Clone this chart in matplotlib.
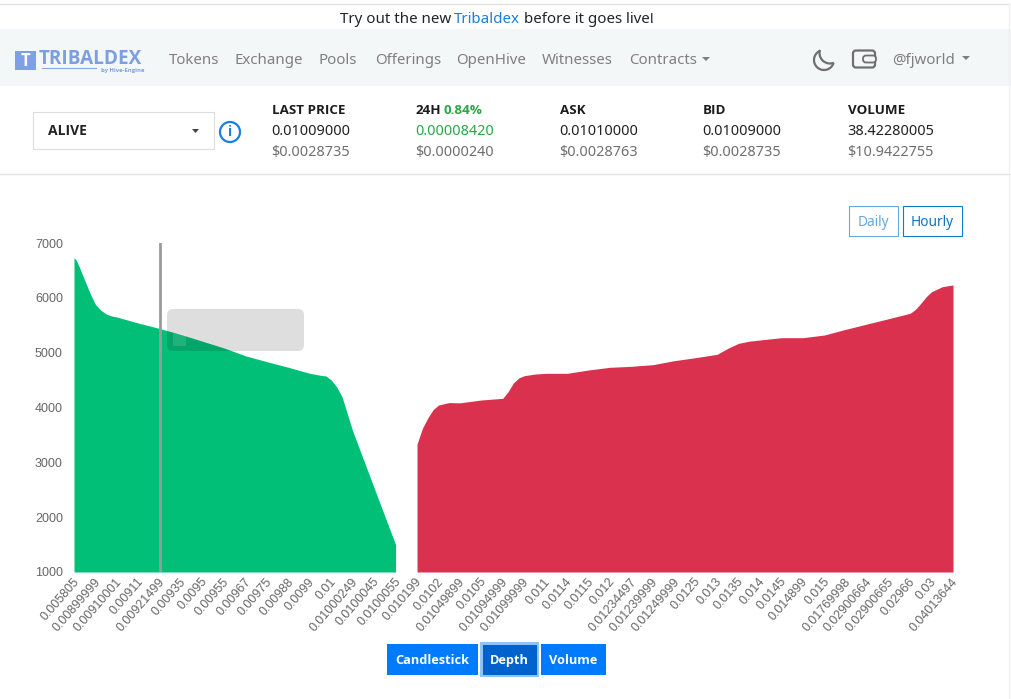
import matplotlib.pyplot as plt
from matplotlib.patches import Rectangle, FancyBboxPatch, Circle, Arc, Polygon
from matplotlib.transforms import ScaledTranslation

price_labels = ["0.005805", "0.00899999", "0.00910001", "0.00911", "0.00921499", "0.00935",
                "0.0095", "0.00955", "0.00967", "0.00975", "0.00988", "0.0099", "0.01",
                "0.01000249", "0.0100045", "0.0100055", "0.010199", "0.0102", "0.01049899",
                "0.0105", "0.01094999", "0.01099999", "0.011", "0.0114", "0.0115", "0.012",
                "0.01234497", "0.01239999", "0.01249999", "0.0125", "0.013", "0.0135", "0.014",
                "0.0145", "0.014899", "0.015", "0.01769998", "0.02900664", "0.02900665",
                "0.02966", "0.03", "0.04013644"]

bid_steps = [0, 0.1, 0.25, 0.5, 0.75, 1, 1.25, 1.5, 1.75, 2, 3, 4, 5, 6, 7, 8, 9, 10, 11,
             11.5, 11.75, 12, 12.25, 12.5, 13, 14, 15]
bid_depth = [6730, 6690, 6560, 6320, 6080, 5880, 5775, 5705, 5670, 5650, 5540, 5440, 5330,
             5207, 5085, 4943, 4835, 4733, 4623, 4587, 4575, 4500, 4378, 4197, 3571, 2532, 1500]

ask_steps = [16, 16.25, 16.5, 16.75, 17, 17.5, 18, 19, 20, 20.25, 20.5, 20.75, 21, 21.5, 22,
             23, 24, 25, 26, 27, 28, 29, 30, 30.5, 31, 31.5, 32, 33, 34, 35, 36, 37, 38, 39,
             39.25, 39.5, 39.75, 40, 40.5, 41]
ask_depth = [3330, 3620, 3808, 3960, 4045, 4090, 4085, 4137, 4167, 4290, 4450, 4540, 4580,
             4610, 4623, 4623, 4684, 4733, 4751, 4781, 4854, 4909, 4970, 5080, 5170, 5210,
             5231, 5273, 5273, 5322, 5426, 5523, 5620, 5718, 5790, 5900, 6020, 6112, 6203, 6235]

depth_ticks = [1000, 2000, 3000, 4000, 5000, 6000, 7000]

nav_names = ["Tokens", "Exchange", "Pools", "Offerings", "OpenHive", "Witnesses", "Contracts"]
nav_left = [169, 235, 319, 375, 456, 542, 629]

stat_left = [272, 416, 560, 703, 848]
stat_heads = ["LAST PRICE", "24H", "ASK", "BID", "VOLUME"]
stat_values = ["0.01009000", "0.00008420", "0.01010000", "0.01009000", "38.42280005"]
stat_usd = ["$0.0028735", "$0.0000240", "$0.0028763", "$0.0028735", "$10.9422755"]

def plot_depth():
    plt.rcParams["font.family"] = "Noto Sans"
    bold_font = "Open Sans"
    fig = plt.figure(figsize=(10.11, 6.99), dpi=100)

    # Depth chart
    plt.axes([74 / 1011, 1 - 572 / 699, 879 / 1011, 329 / 699], facecolor="none")
    plt.fill_between(bid_steps, bid_depth, 1000, color="#02bf78", linewidth=0)
    plt.fill_between(ask_steps, ask_depth, 1000, color="#da314f", linewidth=0)
    plt.axvline(4, color="#9a9a9a", linewidth=2)
    plt.xlim(0, 41)
    plt.ylim(1000, 7000)
    plt.xticks(range(len(price_labels)), price_labels, rotation=49, ha="right", va="center",
               rotation_mode="anchor", fontsize=9, family="Liberation Sans", color="#666666")
    plt.yticks(depth_ticks, fontsize=9, family="Liberation Sans", color="#666666")
    plt.tick_params(length=0, pad=8)
    plt.gca().tick_params(axis="x", pad=5.5)
    for label in plt.gca().get_xticklabels():
        label.set_transform(label.get_transform() + ScaledTranslation(3 / 100, 0, fig.dpi_scale_trans))
    for side in plt.gca().spines.values():
        side.set_visible(False)

    # Page around the chart, in pixels
    page = plt.axes([0, 0, 1, 1], facecolor="none")
    plt.xlim(0, 1011)
    plt.ylim(699, 0)
    plt.axis("off")

    page.add_patch(Rectangle((0, 29), 1011, 57, color="#f3f7f8", linewidth=0))
    plt.plot([0, 1009], [4, 4], color="#e2e2e2", linewidth=1)
    plt.plot([0, 1011], [174, 174], color="#e4e4e4", linewidth=1)
    plt.plot([1009, 1009], [4, 699], color="#f0f0f0", linewidth=1)

    # Banner
    plt.text(340, 23, "Try out the new", fontsize=10.9, color="#212529")
    plt.text(454, 23, "Tribaldex", fontsize=10.9, color="#1a7fe0")
    plt.text(523.5, 23, "before it goes live!", fontsize=10.9, color="#212529")

    # Logo
    page.add_patch(Rectangle((15, 51), 21, 19, color="#7f9fe6", linewidth=0))
    plt.text(25.5, 60.5, "T", fontsize=12, family=bold_font, fontweight="bold", color="white", ha="center", va="center")
    plt.text(38.5, 63.5, "TRIBALDEX", fontsize=13.6, family=bold_font, fontweight="bold", color="#7d9ee0")
    plt.plot([42, 96], [68, 68], color="#8aa5e4", linewidth=0.8)
    plt.text(101, 72, "by Hive-Engine", fontsize=4.2, family=bold_font, fontweight="bold", color="#7d9ee0")

    # Navigation
    for name, left in zip(nav_names, nav_left):
        plt.text(left, 64, name, fontsize=10.8, color="#7f7f7f")
    page.add_patch(Polygon([(702, 57), (710, 57), (706, 61)], color="#7f7f7f", linewidth=0))
    page.add_patch(Arc((824, 60), 20, 20, theta1=17, theta2=248, color="#6f6f6f", linewidth=1.6))
    page.add_patch(Arc((830, 53), 21, 21, theta1=68, theta2=197, color="#6f6f6f", linewidth=1.6))
    page.add_patch(FancyBboxPatch((853, 50.5), 22, 17, boxstyle="round,pad=0,rounding_size=3",
                                  fill=False, edgecolor="#6f6f6f", linewidth=1.6))
    page.add_patch(FancyBboxPatch((863, 55.5), 13, 7, boxstyle="round,pad=0,rounding_size=3",
                                  facecolor="#f3f7f8", edgecolor="#6f6f6f", linewidth=1.3))
    plt.text(892, 63.5, "@fjworld", fontsize=10.8, color="#7f7f7f")
    page.add_patch(Polygon([(962, 56), (970, 56), (966, 60)], color="#7f7f7f", linewidth=0))

    # Token picker
    page.add_patch(Rectangle((32.5, 112), 181, 37, fill=False, edgecolor="#dddddd", linewidth=0.8))
    plt.text(48, 135, "ALIVE", fontsize=10, family=bold_font, fontweight="bold", color="#222222")
    page.add_patch(Polygon([(192, 129), (199, 129), (195.5, 133)], color="#444444", linewidth=0))
    page.add_patch(Circle((230, 132), 10, fill=False, edgecolor="#1a7fe0", linewidth=1.6))
    plt.text(230, 132.5, "i", fontsize=10, family=bold_font, fontweight="bold", color="#1a7fe0", ha="center", va="center")

    # Market stats
    for left, head, value, usd in zip(stat_left, stat_heads, stat_values, stat_usd):
        plt.text(left, 114.3, head, fontsize=9.6, family=bold_font, fontweight="bold", color="#1c1c1c")
        plt.text(left - 0.5, 135, value, fontsize=10.4, color="#28a745" if head == "24H" else "#222222")
        plt.text(left - 0.5, 156, usd, fontsize=10.4, color="#6f6f6f")
    plt.text(443, 114.3, "0.84%", fontsize=9.6, family=bold_font, fontweight="bold", color="#28a745")

    # Period buttons
    page.add_patch(Rectangle((848.5, 205.5), 49, 30, fill=False, edgecolor="#62a9e0", linewidth=0.8))
    plt.text(873, 225.5, "Daily", fontsize=9.8, color="#62a9e0", ha="center")
    page.add_patch(Rectangle((902.5, 205.5), 59, 30, fill=False, edgecolor="#0b7fc4", linewidth=0.8))
    plt.text(932, 225.5, "Hourly", fontsize=9.8, color="#0b72c8", ha="center")

    # Tooltip left over the chart
    page.add_patch(FancyBboxPatch((167, 309), 137, 42, boxstyle="round,pad=0,rounding_size=6",
                                  facecolor="black", alpha=0.13, linewidth=0))
    page.add_patch(Rectangle((173, 333), 13, 13, color="white", alpha=0.13, linewidth=0))

    # Chart type buttons
    page.add_patch(Rectangle((387, 644), 91, 31, color="#007bff", linewidth=0))
    page.add_patch(Rectangle((480, 642), 59, 35, color="#8cc4fb", linewidth=0))
    page.add_patch(Rectangle((482.5, 644.5), 54, 30, color="#0062cc", linewidth=0))
    page.add_patch(Rectangle((541, 644), 65, 31, color="#007bff", linewidth=0))
    plt.text(432.5, 664, "Candlestick", fontsize=9.2, family=bold_font, fontweight="bold", color="white", ha="center")
    plt.text(509.5, 664, "Depth", fontsize=9.2, family=bold_font, fontweight="bold", color="white", ha="center")
    plt.text(573.5, 664, "Volume", fontsize=9.2, family=bold_font, fontweight="bold", color="white", ha="center")

    plt.savefig("out.png", dpi=100)

if __name__ == "__main__":
    plot_depth()
